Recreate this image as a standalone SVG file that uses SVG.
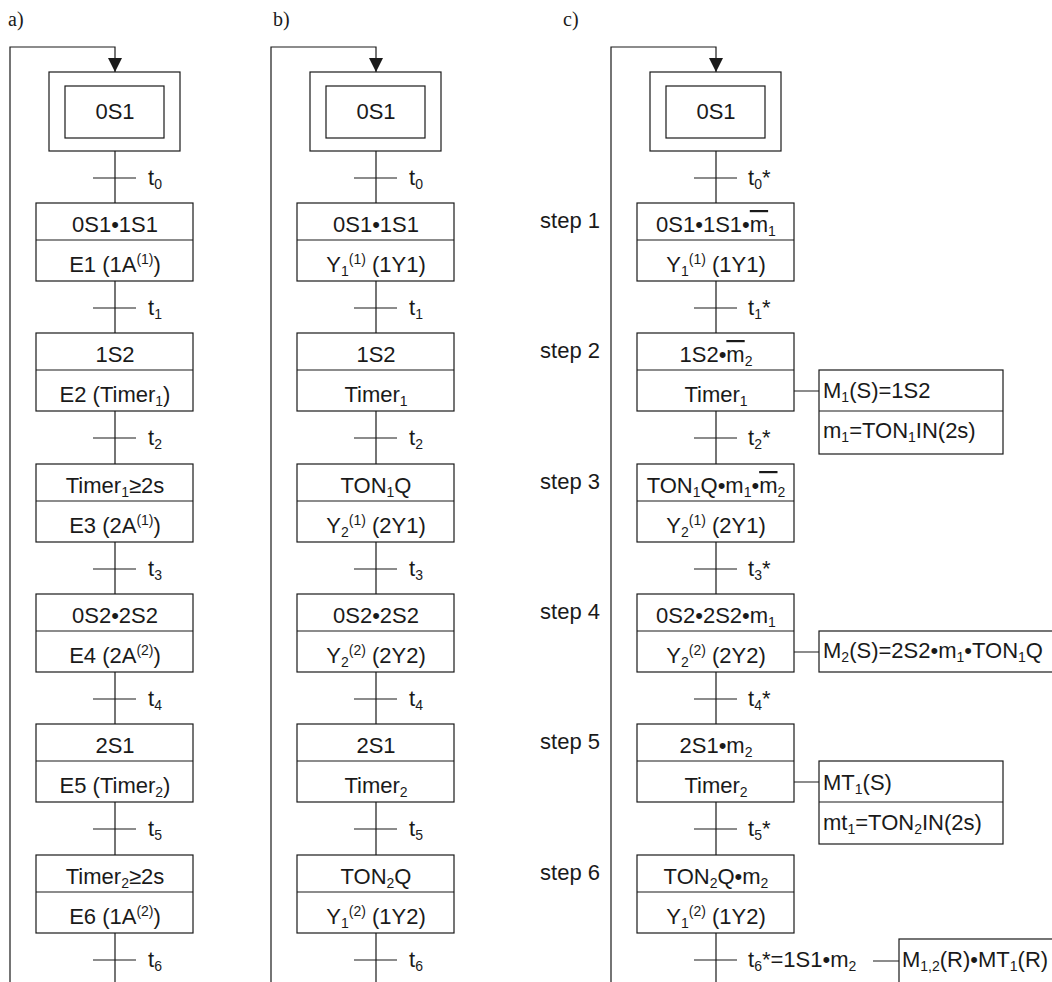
<svg xmlns="http://www.w3.org/2000/svg" width="1052" height="982" viewBox="0 0 1052 982">
<style>
.ln{stroke:#1a1a1a;stroke-width:1.2;fill:none}
.bx{stroke:#1a1a1a;stroke-width:1.2;fill:#fff}
.t{font-family:"Liberation Sans",Arial,sans-serif;font-size:22px;fill:#1a1a1a}
.c{text-anchor:middle}
.e{text-anchor:end}
.s{font-size:14px}
.ov{text-decoration:overline}
.lab{font-family:"Liberation Serif","Times New Roman",serif;font-size:20px;fill:#1a1a1a}
</style>
<defs>
<marker id="arr" markerUnits="userSpaceOnUse" markerWidth="14" markerHeight="14" refX="14" refY="7" orient="auto">
<path d="M0,0 L14,7 L0,14 z" fill="#1a1a1a"/>
</marker>
</defs>
<rect width="1052" height="982" fill="#fff"/>
<text class="lab" x="8" y="26">a)</text>
<text class="lab" x="273" y="26">b)</text>
<text class="lab" x="563" y="26">c)</text>

<g id="connectors">
<path class="ln" d="M10,982 V47 H115 V72" marker-end="url(#arr)"/>
<path class="ln" d="M271,982 V47 H376 V72" marker-end="url(#arr)"/>
<path class="ln" d="M611,982 V47 H716 V72" marker-end="url(#arr)"/>
<path class="ln" d="M115,151 V982 M376,151 V982 M716,151 V982"/>
<path class="ln" d="M93,178 H136 M93,308 H136 M93,438 H136 M93,569 H136 M93,699 H136 M93,829 H136 M93,960 H136"/>
<path class="ln" d="M354,178 H397 M354,308 H397 M354,438 H397 M354,569 H397 M354,699 H397 M354,829 H397 M354,960 H397"/>
<path class="ln" d="M694,178 H737 M694,308 H737 M694,438 H737 M694,569 H737 M694,699 H737 M694,829 H737 M694,960 H737"/>
<path class="ln" d="M794,391 H819 M794,652 H819 M794,782 H819 M873,961 H899"/>
<g class="t">
<text x="148" y="185">t<tspan class="s" dy="4">0</tspan></text>
<text x="148" y="315">t<tspan class="s" dy="4">1</tspan></text>
<text x="148" y="445">t<tspan class="s" dy="4">2</tspan></text>
<text x="148" y="576">t<tspan class="s" dy="4">3</tspan></text>
<text x="148" y="706">t<tspan class="s" dy="4">4</tspan></text>
<text x="148" y="836">t<tspan class="s" dy="4">5</tspan></text>
<text x="148" y="967">t<tspan class="s" dy="4">6</tspan></text>
<text x="409" y="185">t<tspan class="s" dy="4">0</tspan></text>
<text x="409" y="315">t<tspan class="s" dy="4">1</tspan></text>
<text x="409" y="445">t<tspan class="s" dy="4">2</tspan></text>
<text x="409" y="576">t<tspan class="s" dy="4">3</tspan></text>
<text x="409" y="706">t<tspan class="s" dy="4">4</tspan></text>
<text x="409" y="836">t<tspan class="s" dy="4">5</tspan></text>
<text x="409" y="967">t<tspan class="s" dy="4">6</tspan></text>
<text x="748" y="185">t<tspan class="s" dy="4">0</tspan><tspan dy="-4">*</tspan></text>
<text x="748" y="315">t<tspan class="s" dy="4">1</tspan><tspan dy="-4">*</tspan></text>
<text x="748" y="445">t<tspan class="s" dy="4">2</tspan><tspan dy="-4">*</tspan></text>
<text x="748" y="576">t<tspan class="s" dy="4">3</tspan><tspan dy="-4">*</tspan></text>
<text x="748" y="706">t<tspan class="s" dy="4">4</tspan><tspan dy="-4">*</tspan></text>
<text x="748" y="836">t<tspan class="s" dy="4">5</tspan><tspan dy="-4">*</tspan></text>
<text x="748" y="967">t<tspan class="s" dy="4">6</tspan><tspan dy="-4">*=1S1•m</tspan><tspan class="s" dy="4">2</tspan></text>
</g>
</g>

<g id="a-init"><rect class="bx" x="49" y="72" width="131" height="79"/><rect class="bx" x="65" y="86" width="99" height="52"/><text class="t c" x="115" y="119">0S1</text></g>
<g id="b-init"><rect class="bx" x="310" y="72" width="131" height="79"/><rect class="bx" x="326" y="86" width="99" height="52"/><text class="t c" x="376" y="119">0S1</text></g>
<g id="c-init"><rect class="bx" x="650" y="72" width="131" height="79"/><rect class="bx" x="666" y="86" width="99" height="52"/><text class="t c" x="716" y="119">0S1</text></g>

<!-- column a -->
<g id="a-s1"><rect class="bx" x="36" y="203" width="157" height="78"/><line class="ln" x1="36" y1="240" x2="193" y2="240"/>
<text class="t c" x="115" y="232">0S1•1S1</text>
<text class="t c" x="115" y="272">E1 (1A<tspan class="s" dy="-8">(1)</tspan><tspan dy="8">)</tspan></text></g>
<g id="a-s2"><rect class="bx" x="36" y="333" width="157" height="78"/><line class="ln" x1="36" y1="370" x2="193" y2="370"/>
<text class="t c" x="115" y="362">1S2</text>
<text class="t c" x="115" y="402">E2 (Timer<tspan class="s" dy="4">1</tspan><tspan dy="-4">)</tspan></text></g>
<g id="a-s3"><rect class="bx" x="36" y="464" width="157" height="78"/><line class="ln" x1="36" y1="501" x2="193" y2="501"/>
<text class="t c" x="115" y="493">Timer<tspan class="s" dy="4">1</tspan><tspan dy="-4">≥2s</tspan></text>
<text class="t c" x="115" y="533">E3 (2A<tspan class="s" dy="-8">(1)</tspan><tspan dy="8">)</tspan></text></g>
<g id="a-s4"><rect class="bx" x="36" y="594" width="157" height="78"/><line class="ln" x1="36" y1="631" x2="193" y2="631"/>
<text class="t c" x="115" y="623">0S2•2S2</text>
<text class="t c" x="115" y="663">E4 (2A<tspan class="s" dy="-8">(2)</tspan><tspan dy="8">)</tspan></text></g>
<g id="a-s5"><rect class="bx" x="36" y="724" width="157" height="78"/><line class="ln" x1="36" y1="761" x2="193" y2="761"/>
<text class="t c" x="115" y="753">2S1</text>
<text class="t c" x="115" y="793">E5 (Timer<tspan class="s" dy="4">2</tspan><tspan dy="-4">)</tspan></text></g>
<g id="a-s6"><rect class="bx" x="36" y="855" width="157" height="78"/><line class="ln" x1="36" y1="892" x2="193" y2="892"/>
<text class="t c" x="115" y="884">Timer<tspan class="s" dy="4">2</tspan><tspan dy="-4">≥2s</tspan></text>
<text class="t c" x="115" y="924">E6 (1A<tspan class="s" dy="-8">(2)</tspan><tspan dy="8">)</tspan></text></g>

<!-- column b -->
<g id="b-s1"><rect class="bx" x="297" y="203" width="157" height="78"/><line class="ln" x1="297" y1="240" x2="454" y2="240"/>
<text class="t c" x="376" y="232">0S1•1S1</text>
<text class="t c" x="376" y="272">Y<tspan class="s" dy="4">1</tspan><tspan class="s" dy="-12">(1)</tspan><tspan dy="8"> (1Y1)</tspan></text></g>
<g id="b-s2"><rect class="bx" x="297" y="333" width="157" height="78"/><line class="ln" x1="297" y1="370" x2="454" y2="370"/>
<text class="t c" x="376" y="362">1S2</text>
<text class="t c" x="376" y="402">Timer<tspan class="s" dy="4">1</tspan></text></g>
<g id="b-s3"><rect class="bx" x="297" y="464" width="157" height="78"/><line class="ln" x1="297" y1="501" x2="454" y2="501"/>
<text class="t c" x="376" y="493">TON<tspan class="s" dy="4">1</tspan><tspan dy="-4">Q</tspan></text>
<text class="t c" x="376" y="533">Y<tspan class="s" dy="4">2</tspan><tspan class="s" dy="-12">(1)</tspan><tspan dy="8"> (2Y1)</tspan></text></g>
<g id="b-s4"><rect class="bx" x="297" y="594" width="157" height="78"/><line class="ln" x1="297" y1="631" x2="454" y2="631"/>
<text class="t c" x="376" y="623">0S2•2S2</text>
<text class="t c" x="376" y="663">Y<tspan class="s" dy="4">2</tspan><tspan class="s" dy="-12">(2)</tspan><tspan dy="8"> (2Y2)</tspan></text></g>
<g id="b-s5"><rect class="bx" x="297" y="724" width="157" height="78"/><line class="ln" x1="297" y1="761" x2="454" y2="761"/>
<text class="t c" x="376" y="753">2S1</text>
<text class="t c" x="376" y="793">Timer<tspan class="s" dy="4">2</tspan></text></g>
<g id="b-s6"><rect class="bx" x="297" y="855" width="157" height="78"/><line class="ln" x1="297" y1="892" x2="454" y2="892"/>
<text class="t c" x="376" y="884">TON<tspan class="s" dy="4">2</tspan><tspan dy="-4">Q</tspan></text>
<text class="t c" x="376" y="924">Y<tspan class="s" dy="4">1</tspan><tspan class="s" dy="-12">(2)</tspan><tspan dy="8"> (1Y2)</tspan></text></g>

<!-- column c -->
<g id="c-steplabels" class="t">
<text class="e" x="600" y="228">step 1</text>
<text class="e" x="600" y="358">step 2</text>
<text class="e" x="600" y="489">step 3</text>
<text class="e" x="600" y="619">step 4</text>
<text class="e" x="600" y="749">step 5</text>
<text class="e" x="600" y="880">step 6</text>
</g>
<g id="c-s1"><rect class="bx" x="637" y="203" width="157" height="78"/><line class="ln" x1="637" y1="240" x2="794" y2="240"/>
<text class="t c" x="716" y="232">0S1•1S1•<tspan class="ov">m</tspan><tspan class="s" dy="4">1</tspan></text>
<text class="t c" x="716" y="272">Y<tspan class="s" dy="4">1</tspan><tspan class="s" dy="-12">(1)</tspan><tspan dy="8"> (1Y1)</tspan></text></g>
<g id="c-s2"><rect class="bx" x="637" y="333" width="157" height="78"/><line class="ln" x1="637" y1="370" x2="794" y2="370"/>
<text class="t c" x="716" y="362">1S2•<tspan class="ov">m</tspan><tspan class="s" dy="4">2</tspan></text>
<text class="t c" x="716" y="402">Timer<tspan class="s" dy="4">1</tspan></text></g>
<g id="c-s3"><rect class="bx" x="637" y="464" width="157" height="78"/><line class="ln" x1="637" y1="501" x2="794" y2="501"/>
<text class="t c" x="716" y="493">TON<tspan class="s" dy="4">1</tspan><tspan dy="-4">Q•m</tspan><tspan class="s" dy="4">1</tspan><tspan dy="-4">•</tspan><tspan class="ov">m</tspan><tspan class="s" dy="4">2</tspan></text>
<text class="t c" x="716" y="533">Y<tspan class="s" dy="4">2</tspan><tspan class="s" dy="-12">(1)</tspan><tspan dy="8"> (2Y1)</tspan></text></g>
<g id="c-s4"><rect class="bx" x="637" y="594" width="157" height="78"/><line class="ln" x1="637" y1="631" x2="794" y2="631"/>
<text class="t c" x="716" y="623">0S2•2S2•m<tspan class="s" dy="4">1</tspan></text>
<text class="t c" x="716" y="663">Y<tspan class="s" dy="4">2</tspan><tspan class="s" dy="-12">(2)</tspan><tspan dy="8"> (2Y2)</tspan></text></g>
<g id="c-s5"><rect class="bx" x="637" y="724" width="157" height="78"/><line class="ln" x1="637" y1="761" x2="794" y2="761"/>
<text class="t c" x="716" y="753">2S1•m<tspan class="s" dy="4">2</tspan></text>
<text class="t c" x="716" y="793">Timer<tspan class="s" dy="4">2</tspan></text></g>
<g id="c-s6"><rect class="bx" x="637" y="855" width="157" height="78"/><line class="ln" x1="637" y1="892" x2="794" y2="892"/>
<text class="t c" x="716" y="884">TON<tspan class="s" dy="4">2</tspan><tspan dy="-4">Q•m</tspan><tspan class="s" dy="4">2</tspan></text>
<text class="t c" x="716" y="924">Y<tspan class="s" dy="4">1</tspan><tspan class="s" dy="-12">(2)</tspan><tspan dy="8"> (1Y2)</tspan></text></g>

<!-- side action boxes -->
<g id="side-2"><rect class="bx" x="819" y="370" width="184" height="84"/><line class="ln" x1="819" y1="411" x2="1003" y2="411"/>
<text class="t" x="823" y="398">M<tspan class="s" dy="4">1</tspan><tspan dy="-4">(S)=1S2</tspan></text>
<text class="t" x="823" y="438">m<tspan class="s" dy="4">1</tspan><tspan dy="-4">=TON</tspan><tspan class="s" dy="4">1</tspan><tspan dy="-4">IN(2s)</tspan></text></g>
<g id="side-4"><rect class="bx" x="819" y="631" width="250" height="41"/>
<text class="t" x="823" y="658">M<tspan class="s" dy="4">2</tspan><tspan dy="-4">(S)=2S2•m</tspan><tspan class="s" dy="4">1</tspan><tspan dy="-4">•TON</tspan><tspan class="s" dy="4">1</tspan><tspan dy="-4">Q</tspan></text></g>
<g id="side-5"><rect class="bx" x="819" y="761" width="184" height="83"/><line class="ln" x1="819" y1="802" x2="1003" y2="802"/>
<text class="t" x="823" y="790">MT<tspan class="s" dy="4">1</tspan><tspan dy="-4">(S)</tspan></text>
<text class="t" x="823" y="830">mt<tspan class="s" dy="4">1</tspan><tspan dy="-4">=TON</tspan><tspan class="s" dy="4">2</tspan><tspan dy="-4">IN(2s)</tspan></text></g>
<g id="side-6"><rect class="bx" x="899" y="939" width="170" height="50"/>
<text class="t" x="902" y="967">M<tspan class="s" dy="4">1,2</tspan><tspan dy="-4">(R)•MT</tspan><tspan class="s" dy="4">1</tspan><tspan dy="-4">(R)</tspan></text></g>
</svg>
